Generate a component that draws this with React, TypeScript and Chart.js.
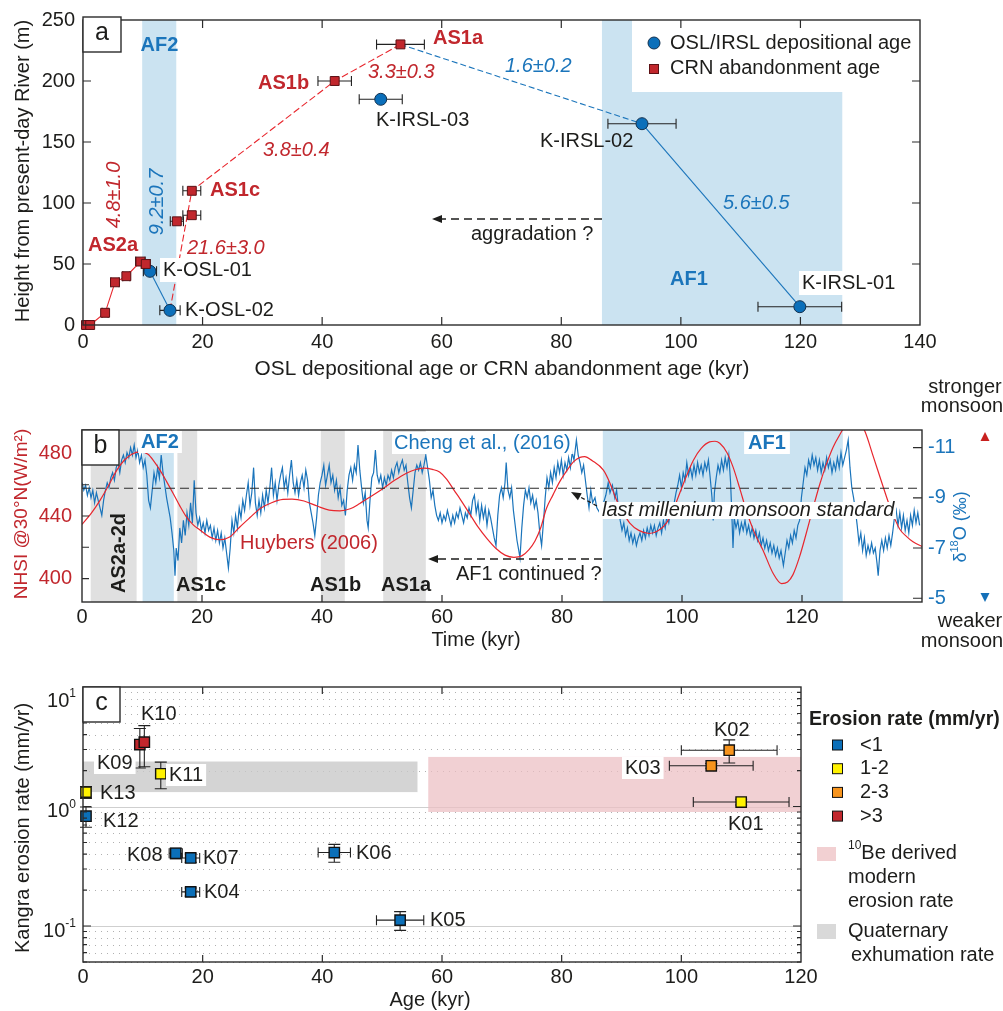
import React, { useEffect, useRef } from 'react';
import { Chart, registerables } from 'chart.js';

Chart.register(...registerables);

// ---------------- style constants ----------------
const FONT = '"Liberation Sans", Arial, Helvetica, sans-serif';
const INK = '#1d1d1b';
const FRAME = '#2b2b2b';
const RED_TXT = '#c1272d';
const RED_LINE = '#e8262d';
const BLUE_TXT = '#1b75bb';
const BLUE_LINE = '#1b75bb';
const BAND_BLUE = 'rgb(203,227,241)';
const BAND_GRAY = 'rgb(224,224,224)';
const PINK = 'rgba(236,190,194,0.72)';
const QGRAY = 'rgba(200,200,200,0.78)';
const PI2 = Math.PI / 2;

const A_TOP = 0;
const B_TOP = 370;
const C_TOP = 660;

// ---------------- panel a data ----------------
const ageTicksA = [0, 20, 40, 60, 80, 100, 120, 140];
const heightTicks = [0, 50, 100, 150, 200, 250];
const crnAge = [0.5, 1.2, 3.7, 5.35, 7.25, 9.6, 10.5, 15.7, 18.2, 18.2, 42.1, 53.1];
const crnHeight = [0, 0, 10, 35, 40, 52, 50, 85, 90, 110, 200, 230];
const crnAgeErr = [0.5, 0.5, 0.5, 0.7, 0.6, 0.8, 0.75, 1.1, 1.5, 1.5, 2.8, 4.0];
const crnSolidIdx = [0, 1, 2, 3, 4, 5, 6];
const crnDashedIdx = [11, 10, 9];
const oslNames = ['K-OSL-01', 'K-OSL-02', 'K-IRSL-03', 'K-IRSL-02', 'K-IRSL-01'];
const oslAge = [11.2, 14.55, 49.8, 93.5, 119.9];
const oslHeight = [44, 12, 185, 165, 15];
const oslAgeErr = [1.1, 1.7, 3.6, 5.7, 7.0];
const afBandsA = [[9.9, 15.6], [86.8, 127.0]];

// ---------------- panel b data ----------------
const timeTicksB = [0, 20, 40, 60, 80, 100, 120];
const nhsiTicks = [400, 440, 480];
const d18oTicks = [-11, -9, -7, -5];
const asBandsB = [[1.45, 9.1], [15.9, 19.2], [39.8, 43.8], [50.2, 57.3]];
const afBandsB = [[10.1, 15.3], [86.8, 126.8]];
const monsoonStandard = -9.38;

const huybersRecord = [
  [0, 434.6], [1.5, 441.5], [3, 450], [4.5, 460], [5.8, 469.3], [7, 475.5], [8.3, 479.5], [9.7, 481],
  [11, 479.5], [12, 475], [13, 469.3], [14.1, 462], [15.2, 454.4], [16.3, 446.5], [17.4, 439.4],
  [18.5, 434.5], [19.7, 430.9], [21.3, 426.5], [23, 424.8], [24.6, 426.5], [26.3, 433], [28, 439],
  [29.7, 444.8], [31.6, 448.5], [33.5, 450.6], [35, 450.8], [37, 449.6], [39.3, 446.2], [41.2, 443.8],
  [43, 443.3], [44.7, 444.6], [46.3, 448], [48.2, 452.6], [50.2, 457.6], [52.1, 462.8], [54, 467.2],
  [55.5, 469.6], [57, 470.6], [58.4, 469.8], [59.6, 468.2], [60.8, 463.5], [62, 456.5], [63, 451],
  [64.5, 442], [66, 433], [67.5, 425.5], [69, 419.2], [70.5, 415], [72, 413.6], [73.3, 414.5],
  [74.5, 418.5], [75.5, 424], [76.5, 433], [77.4, 444.8], [78.5, 453.5], [79.6, 461.8], [80.8, 469],
  [81.9, 474.6], [83, 477.5], [83.8, 478], [85, 475.5], [86.9, 469.3], [88, 461], [89.1, 450.1],
  [90.2, 442], [91.3, 435.5], [92.8, 430.8], [94.6, 428.8], [96, 430.5], [97.4, 435.5], [98.5, 443.5],
  [99.6, 454.4], [100.8, 466], [101.9, 475.7], [103.2, 483.2], [104.6, 487.4], [105.5, 487.8],
  [106.3, 486.5], [107.5, 480.5], [108.5, 471.4], [109.6, 458], [110.7, 443.7], [112, 430],
  [113.5, 418.1], [115.2, 403.2], [116.6, 396.8], [117.6, 397.8], [118.5, 402.5], [119.6, 414],
  [120.7, 428.8], [121.8, 444.5], [123, 460.8], [124.1, 473.5], [125.2, 484.2], [126.6, 494],
  [127.5, 500], [128.4, 503], [129.5, 500.5], [130.5, 494], [131.9, 477.8], [133.5, 459],
  [134.7, 445.5], [136.3, 431.5], [137.4, 427], [138.5, 423.5], [140, 420.5],
];

const chengRecord = [
  [0, -9.6], [0.3, -9.3], [0.6, -9.5], [0.9, -9.1], [1.2, -9.4], [1.5, -9.0], [1.8, -9.3], [2.1, -8.8], [2.4, -9.2], [2.7, -8.9],
  [3.0, -8.6], [3.3, -8.3], [3.6, -8.9], [3.9, -9.3], [4.2, -9.6], [4.5, -9.4], [4.8, -9.8], [5.1, -10.0], [5.4, -9.7], [5.7, -10.2],
  [6.0, -10.4], [6.3, -10.0], [6.6, -10.5], [6.9, -10.7], [7.2, -10.4], [7.5, -10.8], [7.8, -10.6], [8.1, -11.0], [8.4, -10.7], [8.7, -11.1],
  [9.0, -10.6], [9.3, -10.9], [9.6, -10.4], [9.9, -10.7], [10.2, -10.2], [10.5, -10.5], [10.8, -9.9], [11.1, -8.9], [11.4, -8.6], [11.7, -9.3],
  [12.0, -10.0], [12.3, -9.6], [12.6, -10.2], [12.9, -9.8], [13.2, -10.7], [13.5, -10.0], [13.8, -9.5], [14.1, -9.0], [14.4, -8.6], [14.7, -8.2],
  [15.0, -7.6], [15.3, -6.9], [15.5, -5.9], [15.7, -7.0], [16.0, -6.5], [16.3, -7.8], [16.6, -7.2], [16.9, -8.1], [17.2, -7.5], [17.5, -8.4],
  [17.8, -7.9], [18.1, -8.8], [18.4, -8.0], [18.7, -9.7], [19.0, -8.4], [19.3, -7.9], [19.6, -8.2], [19.9, -7.7], [20.2, -8.0], [20.5, -7.6],
  [20.8, -8.1], [21.1, -7.7], [21.4, -7.9], [21.7, -7.4], [22.0, -7.8], [22.3, -7.3], [22.6, -7.7], [22.9, -7.2], [23.2, -7.6], [23.5, -7.0],
  [23.8, -7.4], [24.1, -6.8], [24.4, -6.2], [24.7, -7.0], [25.0, -8.1], [25.3, -7.6], [25.6, -8.3], [25.9, -7.8], [26.2, -8.6], [26.5, -8.2],
  [26.8, -8.9], [27.1, -8.5], [27.4, -9.1], [27.7, -9.6], [28.0, -8.7], [28.3, -9.2], [28.6, -10.2], [28.9, -8.8], [29.2, -8.3], [29.5, -8.9],
  [29.8, -8.4], [30.1, -9.1], [30.4, -8.6], [30.7, -9.3], [31.0, -8.8], [31.3, -9.4], [31.6, -10.2], [31.9, -9.1], [32.2, -9.6], [32.5, -8.9],
  [32.8, -9.5], [33.1, -9.9], [33.4, -10.2], [33.7, -9.4], [34.0, -9.8], [34.3, -9.2], [34.6, -9.9], [34.9, -10.5], [35.2, -9.6], [35.5, -9.2],
  [35.8, -9.7], [36.1, -9.1], [36.4, -9.6], [36.7, -9.9], [37.0, -9.4], [37.3, -10.1], [37.6, -9.7], [37.9, -8.8], [38.2, -8.4], [38.5, -8.0],
  [38.8, -7.5], [39.1, -8.2], [39.4, -9.1], [39.7, -9.6], [40.0, -9.9], [40.3, -10.3], [40.6, -9.5], [40.9, -9.9], [41.2, -10.3], [41.5, -9.6],
  [41.8, -9.9], [42.1, -9.3], [42.4, -9.7], [42.7, -9.0], [43.0, -9.4], [43.3, -8.7], [43.6, -8.9], [43.9, -8.3], [44.2, -9.3], [44.5, -9.9],
  [44.8, -10.2], [45.1, -9.7], [45.4, -10.3], [45.7, -10.0], [46.0, -11.1], [46.3, -10.1], [46.6, -9.4], [46.9, -8.8], [47.2, -9.2], [47.5, -8.1],
  [47.7, -7.8], [48.0, -8.9], [48.3, -9.8], [48.6, -10.0], [48.9, -10.9], [49.2, -9.9], [49.5, -9.6], [49.8, -9.9], [50.1, -9.4], [50.4, -9.8],
  [50.7, -9.5], [51.0, -9.9], [51.3, -9.7], [51.6, -10.1], [51.9, -9.8], [52.2, -10.2], [52.5, -10.4], [52.8, -10.0], [53.1, -10.3], [53.4, -10.5],
  [53.7, -10.1], [54.0, -10.3], [54.3, -9.6], [54.6, -9.0], [54.9, -8.6], [55.2, -9.3], [55.5, -10.0], [55.8, -10.3], [56.1, -10.1], [56.4, -10.4],
  [56.7, -10.0], [57.0, -10.3], [57.3, -10.7], [57.6, -10.2], [57.9, -9.7], [58.2, -9.0], [58.5, -9.3], [58.8, -8.7], [59.1, -8.3], [59.4, -8.1],
  [59.7, -8.4], [60.0, -8.0], [60.3, -8.3], [60.6, -8.1], [60.9, -8.5], [61.2, -8.2], [61.5, -7.9], [61.8, -8.3], [62.1, -8.0], [62.4, -8.4],
  [62.7, -8.2], [63.0, -8.6], [63.3, -8.3], [63.6, -8.0], [63.9, -8.4], [64.2, -8.2], [64.5, -8.6], [64.8, -8.3], [65.1, -8.9], [65.4, -9.1],
  [65.7, -8.4], [66.0, -8.8], [66.3, -8.1], [66.6, -8.7], [66.9, -8.2], [67.2, -8.6], [67.5, -7.9], [67.8, -8.5], [68.1, -8.2], [68.4, -7.8],
  [68.7, -7.4], [69.0, -7.1], [69.3, -8.3], [69.6, -9.1], [69.9, -9.4], [70.2, -9.0], [70.5, -9.6], [70.7, -10.4], [71.0, -9.3], [71.3, -9.0],
  [71.6, -9.4], [71.9, -8.5], [72.2, -7.9], [72.5, -7.3], [72.8, -6.9], [73.0, -6.6], [73.3, -7.8], [73.6, -8.7], [73.9, -9.3], [74.2, -9.0],
  [74.5, -9.4], [74.8, -8.8], [75.1, -9.1], [75.4, -8.6], [75.7, -8.9], [76.0, -8.4], [76.3, -7.6], [76.6, -7.1], [76.9, -8.0], [77.2, -9.0],
  [77.5, -9.8], [77.8, -9.4], [78.1, -10.0], [78.4, -9.6], [78.7, -10.2], [79.0, -9.8], [79.3, -10.4], [79.6, -10.0], [79.9, -10.5], [80.2, -9.9],
  [80.5, -10.4], [80.8, -10.1], [81.1, -10.6], [81.4, -10.2], [81.7, -10.8], [82.0, -10.5], [82.4, -11.3], [82.7, -10.7], [83.0, -10.4], [83.3, -10.0],
  [83.6, -10.3], [83.9, -9.7], [84.2, -9.1], [84.5, -8.6], [84.8, -9.3], [85.1, -8.8], [85.5, -9.0], [85.8, -8.6], [86.3, -8.4], [86.8, -8.7],
  [87.3, -9.1], [87.7, -9.6], [88.0, -9.2], [88.4, -9.5], [88.8, -9.0], [89.1, -9.3], [89.4, -8.6], [89.7, -8.1], [90.0, -7.7], [90.3, -8.0],
  [90.6, -7.5], [90.9, -7.8], [91.2, -7.3], [91.5, -7.6], [91.8, -7.2], [92.1, -7.5], [92.4, -7.1], [92.7, -7.4], [93.0, -7.6], [93.3, -7.3],
  [93.6, -7.7], [93.9, -7.4], [94.2, -7.8], [94.5, -7.5], [94.8, -7.9], [95.1, -7.6], [95.4, -7.9], [95.7, -7.5], [96.0, -7.8], [96.3, -8.0],
  [96.6, -7.6], [96.9, -8.1], [97.2, -7.8], [97.5, -8.3], [97.8, -8.0], [98.1, -8.5], [98.4, -8.3], [98.7, -8.8], [99.0, -9.2], [99.3, -9.5],
  [99.6, -9.9], [99.9, -9.4], [100.2, -10.0], [100.5, -9.7], [100.8, -10.4], [101.1, -9.9], [101.4, -10.2], [101.7, -9.8], [102.0, -10.3], [102.3, -9.9],
  [102.6, -10.4], [102.9, -10.0], [103.2, -10.3], [103.5, -9.9], [103.8, -10.4], [104.1, -10.1], [104.4, -10.5], [104.7, -9.8], [105.0, -9.0], [105.2, -8.1],
  [105.4, -9.2], [105.7, -9.8], [106.0, -10.3], [106.3, -10.0], [106.6, -10.5], [106.9, -10.1], [107.2, -10.6], [107.5, -10.2], [107.8, -10.7], [108.1, -9.6],
  [108.3, -8.4], [108.5, -7.0], [108.7, -8.2], [109.0, -7.8], [109.3, -8.1], [109.6, -7.6], [109.9, -8.0], [110.2, -7.7], [110.5, -8.1], [110.8, -7.6],
  [111.1, -7.9], [111.4, -7.5], [111.7, -7.8], [112.0, -7.4], [112.3, -7.7], [112.6, -7.3], [112.9, -7.6], [113.2, -7.1], [113.5, -7.4], [113.8, -7.0],
  [114.1, -7.3], [114.4, -6.9], [114.7, -7.2], [115.0, -6.8], [115.3, -7.1], [115.6, -6.7], [115.9, -7.0], [116.2, -6.6], [116.5, -6.9], [116.9, -6.3],
  [117.2, -6.8], [117.5, -7.3], [117.8, -7.0], [118.1, -7.5], [118.4, -7.2], [118.7, -7.7], [119.0, -7.4], [119.3, -7.9], [119.6, -8.1], [119.9, -9.0],
  [120.2, -9.6], [120.5, -10.2], [120.8, -9.9], [121.1, -10.5], [121.4, -10.2], [121.7, -10.7], [122.0, -10.3], [122.3, -10.6], [122.6, -10.1], [122.9, -10.5],
  [123.2, -10.0], [123.5, -10.4], [123.8, -10.1], [124.1, -10.6], [124.4, -10.2], [124.7, -10.5], [125.0, -10.0], [125.3, -10.4], [125.6, -10.1], [125.9, -10.6],
  [126.2, -10.2], [126.5, -10.8], [126.8, -10.3], [127.1, -10.6], [127.4, -10.9], [127.7, -11.3], [128.0, -10.2], [128.3, -9.4], [128.6, -9.0], [128.9, -8.5],
  [129.2, -7.9], [129.5, -7.2], [129.8, -7.6], [130.1, -6.9], [130.4, -7.4], [130.7, -6.7], [131.0, -7.1], [131.3, -6.8], [131.6, -7.2], [131.9, -6.8],
  [132.2, -7.0], [132.5, -6.4], [132.7, -5.9], [133.0, -6.9], [133.3, -7.3], [133.6, -6.9], [133.9, -7.4], [134.2, -7.0], [134.5, -7.5], [134.8, -7.1],
  [135.1, -7.6], [135.4, -8.2], [135.7, -8.5], [136.0, -7.9], [136.3, -8.4], [136.6, -7.8], [136.9, -8.3], [137.2, -7.7], [137.5, -8.1], [137.8, -7.6],
  [138.1, -8.3], [138.4, -7.9], [138.7, -8.5], [139.0, -8.0], [139.3, -8.4], [139.6, -7.9],
];

// ---------------- panel c data ----------------
const ageTicksC = [0, 20, 40, 60, 80, 100, 120];
const sampleNames = ['K01', 'K02', 'K03', 'K04', 'K05', 'K06', 'K07', 'K08', 'K09', 'K10', 'K11', 'K12', 'K13'];
const sampleAge = [110, 108, 105, 18.0, 53.0, 42.0, 18.0, 15.5, 9.5, 10.25, 13.0, 0.5, 0.5];
const sampleAgeErr = [8, 8, 7, 1.5, 3.95, 2.7, 1.5, 1.1, 0, 0, 0, 0, 0];
const sampleRate = [1.09, 2.96, 2.19, 0.193, 0.112, 0.412, 0.371, 0.406, 3.3, 3.45, 1.88, 0.83, 1.32];
const sampleRateErr = [0.06, 0.65, 0.1, 0.015, 0.02, 0.07, 0.03, 0.04, 1.2, 1.3, 0.47, 0.16, 0.15];
const rateClassBounds = [1, 2, 3];
const rateClassColors = ['#0b6fb8', '#fff200', '#f7941d', '#c1272d'];
const rateClassLabels = ['<1', '1-2', '2-3', '>3'];
const rateMajorTicks = [0.1, 1, 10];
const rateMajorExp = ['-1', '0', '1'];
const rateMinorTicks = [0.05, 0.06, 0.07, 0.08, 0.09, 0.2, 0.3, 0.4, 0.5, 0.6, 0.7, 0.8, 0.9, 2, 3, 4, 5, 6, 7, 8, 9];
const modernBandAge = [57.7, 120];
const modernBandRate = [0.9, 2.6];
const exhumationBandAge = [0, 55.9];
const exhumationBandRate = [1.32, 2.38];

function rateColor(r) {
  let i = 0;
  while (i < rateClassBounds.length && r >= rateClassBounds[i]) i++;
  return rateClassColors[i];
}

// ---------------- drawing helpers ----------------
function txt(ctx, s, x, y, o: any = {}) {
  const size = o.size || 20;
  ctx.save();
  ctx.font = `${o.italic ? 'italic ' : ''}${o.bold ? 'bold ' : ''}${size}px ${FONT}`;
  ctx.translate(x, y);
  if (o.rot) ctx.rotate(o.rot);
  const align = o.align || 'left';
  ctx.textAlign = align;
  ctx.textBaseline = 'middle';
  if (o.bg) {
    const w = ctx.measureText(s).width;
    const l = align === 'left' ? 0 : align === 'center' ? -w / 2 : -w;
    const px = o.padX ?? 2;
    const py = o.padY ?? 1;
    ctx.fillStyle = o.bg;
    ctx.fillRect(l - px, -size * 0.55 - py, w + 2 * px, size * 1.1 + 2 * py);
  }
  ctx.fillStyle = o.color || INK;
  ctx.fillText(s, 0, 0);
  ctx.restore();
}

function rich(ctx, segs, x, y, size, color, align, rot = 0, bold = false) {
  ctx.save();
  ctx.translate(x, y);
  if (rot) ctx.rotate(rot);
  ctx.textBaseline = 'middle';
  ctx.textAlign = 'left';
  ctx.fillStyle = color;
  const f = (sup) => `${bold ? 'bold ' : ''}${sup ? Math.round(size * 0.62) : size}px ${FONT}`;
  let total = 0;
  const ws = segs.map(([t, sup]) => {
    ctx.font = f(sup);
    const w = ctx.measureText(t).width;
    total += w;
    return w;
  });
  let cx = align === 'left' ? 0 : align === 'center' ? -total / 2 : -total;
  segs.forEach(([t, sup], i) => {
    ctx.font = f(sup);
    ctx.fillText(t, cx, sup ? -size * 0.36 : 0);
    cx += ws[i];
  });
  ctx.restore();
}

function arrow(ctx, x1, y1, x2, y2, dash) {
  ctx.save();
  ctx.strokeStyle = INK;
  ctx.fillStyle = INK;
  ctx.lineWidth = 1.3;
  const ang = Math.atan2(y2 - y1, x2 - x1);
  const L = 10;
  const W = 4;
  const bx = x2 - L * Math.cos(ang);
  const by = y2 - L * Math.sin(ang);
  ctx.setLineDash(dash);
  ctx.beginPath();
  ctx.moveTo(x1, y1);
  ctx.lineTo(bx, by);
  ctx.stroke();
  ctx.setLineDash([]);
  ctx.beginPath();
  ctx.moveTo(x2, y2);
  ctx.lineTo(bx + W * Math.sin(ang), by - W * Math.cos(ang));
  ctx.lineTo(bx - W * Math.sin(ang), by + W * Math.cos(ang));
  ctx.closePath();
  ctx.fill();
  ctx.restore();
}

function frame(ctx, ca) {
  ctx.save();
  ctx.strokeStyle = FRAME;
  ctx.lineWidth = 1.4;
  ctx.strokeRect(ca.left, ca.top, ca.right - ca.left, ca.bottom - ca.top);
  ctx.restore();
}

function boxLabel(ctx, s, x0, y0, x1, y1) {
  ctx.save();
  ctx.fillStyle = '#fff';
  ctx.fillRect(x0, y0, x1 - x0, y1 - y0);
  ctx.strokeStyle = FRAME;
  ctx.lineWidth = 1.4;
  ctx.strokeRect(x0, y0, x1 - x0, y1 - y0);
  ctx.restore();
  txt(ctx, s, (x0 + x1) / 2, (y0 + y1) / 2 - 1, { size: 25, align: 'center' });
}

function xTicks(ctx, ca, scale, vals, len, top, bottom) {
  ctx.save();
  ctx.strokeStyle = FRAME;
  ctx.lineWidth = 1.2;
  ctx.beginPath();
  vals.forEach((v) => {
    const p = scale.getPixelForValue(v);
    if (bottom) { ctx.moveTo(p, ca.bottom); ctx.lineTo(p, ca.bottom - len); }
    if (top) { ctx.moveTo(p, ca.top); ctx.lineTo(p, ca.top + len); }
  });
  ctx.stroke();
  ctx.restore();
}

function yTicks(ctx, ca, scale, vals, len, left, right) {
  ctx.save();
  ctx.strokeStyle = FRAME;
  ctx.lineWidth = 1.2;
  ctx.beginPath();
  vals.forEach((v) => {
    const p = scale.getPixelForValue(v);
    if (left) { ctx.moveTo(ca.left, p); ctx.lineTo(ca.left + len, p); }
    if (right) { ctx.moveTo(ca.right, p); ctx.lineTo(ca.right - len, p); }
  });
  ctx.stroke();
  ctx.restore();
}

function hErr(ctx, xs, ys, xv, yv, e, cap) {
  if (!e) return;
  const y = ys.getPixelForValue(yv);
  const x0 = xs.getPixelForValue(xv - e);
  const x1 = xs.getPixelForValue(xv + e);
  ctx.save();
  ctx.strokeStyle = '#222';
  ctx.lineWidth = 1.1;
  ctx.beginPath();
  ctx.moveTo(x0, y); ctx.lineTo(x1, y);
  ctx.moveTo(x0, y - cap); ctx.lineTo(x0, y + cap);
  ctx.moveTo(x1, y - cap); ctx.lineTo(x1, y + cap);
  ctx.stroke();
  ctx.restore();
}

function vErr(ctx, xs, ys, xv, yv, e, cap) {
  if (!e) return;
  const x = xs.getPixelForValue(xv);
  const y0 = ys.getPixelForValue(yv - e);
  const y1 = ys.getPixelForValue(yv + e);
  ctx.save();
  ctx.strokeStyle = '#222';
  ctx.lineWidth = 1.1;
  ctx.beginPath();
  ctx.moveTo(x, y0); ctx.lineTo(x, y1);
  ctx.moveTo(x - cap, y0); ctx.lineTo(x + cap, y0);
  ctx.moveTo(x - cap, y1); ctx.lineTo(x + cap, y1);
  ctx.stroke();
  ctx.restore();
}

function linAxis(min, max, ticks, fit, size, pad, color, extra = {}) {
  return {
    type: 'linear',
    min,
    max,
    afterBuildTicks: (s) => { s.ticks = ticks.map((v) => ({ value: v })); },
    ticks: {
      color,
      font: { family: FONT, size: 20 },
      padding: pad,
      autoSkip: false,
      maxRotation: 0,
      minRotation: 0,
      callback: (v) => String(v),
    },
    grid: { display: false, drawTicks: false },
    border: { display: false },
    afterFit: (s) => { if (fit === 'h') s.height = size; else s.width = size; },
    ...extra,
  };
}

const common = {
  responsive: false,
  maintainAspectRatio: false,
  animation: false,
  devicePixelRatio: 1,
  events: [],
  plugins: { legend: { display: false }, tooltip: { enabled: false } },
};

// ---------------- panel a ----------------
const panelAPlugin = {
  id: 'panelA',
  beforeDatasetsDraw(chart) {
    const { ctx, chartArea: ca } = chart;
    const xs = chart.scales.x;
    const ys = chart.scales.y;
    ctx.save();
    ctx.fillStyle = BAND_BLUE;
    afBandsA.forEach(([a0, a1]) => {
      const p0 = xs.getPixelForValue(a0);
      const p1 = xs.getPixelForValue(a1);
      ctx.fillRect(p0, ca.top, p1 - p0, ca.bottom - ca.top);
    });
    ctx.translate(0, -A_TOP);
    ctx.fillStyle = '#fff';
    ctx.fillRect(632, 17, 288, 75);
    ctx.restore();
    crnAge.forEach((a, i) => hErr(ctx, xs, ys, a, crnHeight[i], crnAgeErr[i], 5));
    oslAge.forEach((a, i) => hErr(ctx, xs, ys, a, oslHeight[i], oslAgeErr[i], 5));
  },
  afterDraw(chart) {
    const { ctx, chartArea: ca } = chart;
    const xs = chart.scales.x;
    const ys = chart.scales.y;
    frame(ctx, ca);
    xTicks(ctx, ca, xs, [20, 40, 60, 80, 100, 120], 8, true, true);
    yTicks(ctx, ca, ys, [50, 100, 150, 200], 8, true, true);
    ctx.save();
    ctx.translate(0, -A_TOP);
    boxLabel(ctx, 'a', 83, 17, 121, 52);
    const redB = { color: RED_TXT, bold: true };
    const redI = { color: RED_TXT, italic: true };
    const bluI = { color: BLUE_TXT, italic: true };
    txt(ctx, 'AF2', 159.5, 45, { bold: true, color: BLUE_TXT, align: 'center' });
    txt(ctx, 'AF1', 689, 279, { bold: true, color: BLUE_TXT, align: 'center' });
    txt(ctx, 'AS1a', 433, 38, redB);
    txt(ctx, 'AS1b', 258, 83, redB);
    txt(ctx, 'AS1c', 210, 190, redB);
    txt(ctx, 'AS2a', 88, 245, redB);
    txt(ctx, '3.3±0.3', 368, 72, redI);
    txt(ctx, '3.8±0.4', 263, 150, redI);
    txt(ctx, '21.6±3.0', 187, 248, redI);
    txt(ctx, '4.8±1.0', 114, 195, { ...redI, align: 'center', rot: -PI2 });
    txt(ctx, '9.2±0.7', 157, 202, { ...bluI, align: 'center', rot: -PI2 });
    txt(ctx, '1.6±0.2', 505, 66, bluI);
    txt(ctx, '5.6±0.5', 723, 203, bluI);
    txt(ctx, oslNames[0], 163, 270, { bg: '#fff', padX: 3 });
    txt(ctx, oslNames[1], 185, 310, {});
    txt(ctx, oslNames[2], 376, 120, {});
    txt(ctx, oslNames[3], 540, 141, {});
    txt(ctx, oslNames[4], 802, 283, { bg: '#fff', padX: 3 });
    txt(ctx, 'aggradation ?', 471, 234, {});
    arrow(ctx, 602, 219, 432, 219, [8, 5]);
    // legend
    ctx.save();
    ctx.beginPath();
    ctx.arc(654, 43, 6, 0, Math.PI * 2);
    ctx.fillStyle = '#0b6fba';
    ctx.fill();
    ctx.strokeStyle = '#13314f';
    ctx.lineWidth = 1;
    ctx.stroke();
    ctx.fillStyle = RED_TXT;
    ctx.fillRect(649.5, 64.5, 9, 9);
    ctx.strokeStyle = '#5c1115';
    ctx.strokeRect(649.5, 64.5, 9, 9);
    ctx.restore();
    txt(ctx, 'OSL/IRSL depositional age', 670, 43, {});
    txt(ctx, 'CRN abandonment age', 670, 68, {});
    // titles
    txt(ctx, 'OSL depositional age or CRN abandonment age (kyr)', 502, 369, { align: 'center', size: 20.8 });
    txt(ctx, 'Height from present-day River (m)', 23, 171, { align: 'center', rot: -PI2 });
    ctx.restore();
  },
};

function buildA(canvas) {
  const crnPts = crnAge.map((a, i) => ({ x: a, y: crnHeight[i] }));
  const oslPts = oslAge.map((a, i) => ({ x: a, y: oslHeight[i] }));
  const line = (pts, color, dash) => ({
    data: pts, showLine: true, borderColor: color, borderWidth: 1.1, borderDash: dash, pointRadius: 0, fill: false,
  });
  return new Chart(canvas, {
    type: 'scatter',
    data: {
      datasets: [
        { data: crnPts, pointStyle: 'rect', pointRadius: 6.3, backgroundColor: RED_TXT, borderColor: '#5c1115', borderWidth: 1, clip: false },
        { data: oslPts, pointStyle: 'circle', pointRadius: 6, backgroundColor: '#0b6fba', borderColor: '#13314f', borderWidth: 1, clip: false },
        line(crnSolidIdx.map((i) => crnPts[i]), RED_LINE, []),
        line([...crnDashedIdx.map((i) => crnPts[i]), oslPts[1]], RED_LINE, [7, 3]),
        line([oslPts[0], oslPts[1]], BLUE_LINE, []),
        line([oslPts[3], oslPts[4]], BLUE_LINE, []),
        line([crnPts[11], oslPts[3]], BLUE_LINE, [6, 3]),
      ],
    },
    options: {
      ...common,
      layout: { padding: { left: 0, right: 83, top: 17, bottom: 0 } },
      scales: {
        x: linAxis(0, 140, ageTicksA, 'h', 55, 5, INK),
        y: linAxis(0, 250, heightTicks, 'w', 83, 8, INK),
      },
    },
    plugins: [panelAPlugin],
  } as any);
}

// ---------------- panel b ----------------
const panelBPlugin = {
  id: 'panelB',
  beforeDatasetsDraw(chart) {
    const { ctx, chartArea: ca } = chart;
    const xs = chart.scales.x;
    ctx.save();
    ctx.fillStyle = BAND_GRAY;
    asBandsB.forEach(([a0, a1]) => {
      const p0 = xs.getPixelForValue(a0);
      const p1 = xs.getPixelForValue(a1);
      ctx.fillRect(p0, ca.top, p1 - p0, ca.bottom - ca.top);
    });
    ctx.fillStyle = BAND_BLUE;
    afBandsB.forEach(([a0, a1]) => {
      const p0 = xs.getPixelForValue(a0);
      const p1 = xs.getPixelForValue(a1);
      ctx.fillRect(p0, ca.top, p1 - p0, ca.bottom - ca.top);
    });
    ctx.restore();
  },
  afterDraw(chart) {
    const { ctx, chartArea: ca } = chart;
    const xs = chart.scales.x;
    const ys = chart.scales.y;
    const y2 = chart.scales.y2;
    ctx.save();
    ctx.translate(0, -B_TOP);
    ctx.fillStyle = '#fff';
    ctx.fillRect(599, 502, 297, 17);
    txt(ctx, 'last millenium monsoon standard', 602, 510, { italic: true });
    arrow(ctx, 597, 506, 571, 492, [4, 3]);
    txt(ctx, 'Cheng et al., (2016)', 394, 443, { color: BLUE_TXT, bg: '#fff', padX: 2, padY: 0 });
    txt(ctx, 'AF2', 160, 442, { bold: true, color: BLUE_TXT, align: 'center', bg: '#fff', padX: 3, padY: 0 });
    txt(ctx, 'AF1', 767, 443, { bold: true, color: BLUE_TXT, align: 'center', bg: '#fff', padX: 4, padY: 0 });
    txt(ctx, 'AS2a-2d', 119, 553, { bold: true, align: 'center', rot: -PI2 });
    txt(ctx, 'AS1c', 176, 585, { bold: true });
    txt(ctx, 'AS1b', 310, 585, { bold: true });
    txt(ctx, 'AS1a', 381, 585, { bold: true });
    txt(ctx, 'Huybers (2006)', 240, 543, { color: RED_TXT });
    txt(ctx, 'AF1 continued ?', 456, 574, {});
    arrow(ctx, 602, 559, 428, 559, [8, 5]);
    ctx.restore();

    frame(ctx, ca);
    xTicks(ctx, ca, xs, [20, 40, 60, 80, 100, 120], 7, false, true);
    yTicks(ctx, ca, ys, [400, 420, 440, 460, 480], 7, true, false);
    yTicks(ctx, ca, y2, d18oTicks, 9, false, true);

    ctx.save();
    ctx.translate(0, -B_TOP);
    boxLabel(ctx, 'b', 82, 430, 119, 465);
    txt(ctx, 'stronger', 965, 387, { align: 'center' });
    txt(ctx, 'monsoon', 962, 406, { align: 'center' });
    txt(ctx, 'weaker', 970, 621, { align: 'center' });
    txt(ctx, 'monsoon', 962, 641, { align: 'center' });
    ctx.fillStyle = '#c8201e';
    ctx.beginPath();
    ctx.moveTo(985, 432); ctx.lineTo(989.5, 441); ctx.lineTo(980.5, 441); ctx.closePath(); ctx.fill();
    ctx.fillStyle = '#1570b8';
    ctx.beginPath();
    ctx.moveTo(985, 602); ctx.lineTo(989.5, 593); ctx.lineTo(980.5, 593); ctx.closePath(); ctx.fill();
    rich(ctx, [['δ', false], ['18', true], ['O (‰)', false]], 961, 527, 18, BLUE_TXT, 'center', -PI2);
    txt(ctx, 'NHSI @30°N(W/m²)', 22, 514, { size: 19, color: RED_TXT, align: 'center', rot: -PI2 });
    txt(ctx, 'Time (kyr)', 476, 640, { align: 'center' });
    ctx.restore();
  },
};

function buildB(canvas) {
  return new Chart(canvas, {
    type: 'scatter',
    data: {
      datasets: [
        {
          data: [{ x: 0, y: monsoonStandard }, { x: 140, y: monsoonStandard }], yAxisID: 'y2', showLine: true,
          borderColor: '#2b2b2b', borderWidth: 1.2, borderDash: [9, 5], pointRadius: 0,
        },
        {
          data: huybersRecord.map(([t, v]) => ({ x: t, y: v })), yAxisID: 'y', showLine: true,
          borderColor: RED_LINE, borderWidth: 1.2, pointRadius: 0, tension: 0.4, cubicInterpolationMode: 'monotone',
        },
        {
          data: chengRecord.map(([t, v]) => ({ x: t, y: v })), yAxisID: 'y2', showLine: true,
          borderColor: '#1a74bb', borderWidth: 1.2, pointRadius: 0,
        },
      ],
    },
    options: {
      ...common,
      layout: { padding: { left: 0, right: 0, top: 60, bottom: 0 } },
      scales: {
        x: linAxis(0, 140, timeTicksB, 'h', 68, 3, INK),
        y: linAxis(385, 495, nhsiTicks, 'w', 82, 10, RED_TXT),
        y2: linAxis(-11.7, -4.85, d18oTicks, 'w', 81, 6, BLUE_TXT, { position: 'right', reverse: true }),
      },
    },
    plugins: [panelBPlugin],
  } as any);
}

// ---------------- panel c ----------------
const samplePos = {
  K01: [728, 824], K02: [714, 730], K03: [625, 768], K04: [204, 892], K05: [430, 920], K06: [356, 853],
  K07: [203, 858], K08: [127, 855], K09: [97, 763], K10: [141, 714], K11: [169, 775], K12: [103, 821], K13: [100, 793],
};
const sampleBg = { K09: true, K11: true, K03: true };

const panelCPlugin = {
  id: 'panelC',
  beforeDatasetsDraw(chart) {
    const { ctx, chartArea: ca } = chart;
    const xs = chart.scales.x;
    const ys = chart.scales.y;
    ctx.save();
    ctx.strokeStyle = '#b0b0b0';
    ctx.lineWidth = 1;
    ctx.setLineDash([1, 5]);
    ctx.beginPath();
    rateMinorTicks.forEach((v) => {
      const p = Math.round(ys.getPixelForValue(v)) + 0.5;
      ctx.moveTo(ca.left, p); ctx.lineTo(ca.right, p);
    });
    ctx.stroke();
    ctx.setLineDash([]);
    ctx.strokeStyle = '#cfcfcf';
    ctx.beginPath();
    [0.1, 1].forEach((v) => {
      const p = Math.round(ys.getPixelForValue(v)) + 0.5;
      ctx.moveTo(ca.left, p); ctx.lineTo(ca.right, p);
    });
    ctx.stroke();
    const band = (ages, rates, color) => {
      const x0 = xs.getPixelForValue(ages[0]);
      const x1 = xs.getPixelForValue(ages[1]);
      const y0 = ys.getPixelForValue(rates[1]);
      const y1 = ys.getPixelForValue(rates[0]);
      ctx.fillStyle = color;
      ctx.fillRect(x0, y0, x1 - x0, y1 - y0);
    };
    band(exhumationBandAge, exhumationBandRate, QGRAY);
    band(modernBandAge, modernBandRate, PINK);
    ctx.restore();
    sampleAge.forEach((a, i) => {
      vErr(ctx, xs, ys, a, sampleRate[i], sampleRateErr[i], 6);
      hErr(ctx, xs, ys, a, sampleRate[i], sampleAgeErr[i], 5);
    });
  },
  afterDraw(chart) {
    const { ctx, chartArea: ca } = chart;
    const xs = chart.scales.x;
    const ys = chart.scales.y;
    frame(ctx, ca);
    xTicks(ctx, ca, xs, [20, 40, 60, 80, 100], 7, true, true);
    yTicks(ctx, ca, ys, [0.1, 1], 8, true, true);
    yTicks(ctx, ca, ys, rateMinorTicks, 4, true, true);
    rateMajorTicks.forEach((v, i) => {
      const p = ys.getPixelForValue(v);
      const yy = Math.max(p + 5, ca.top + 14);
      rich(ctx, [['10', false], [rateMajorExp[i], true]], 76, yy, 20, INK, 'right');
    });
    ctx.save();
    ctx.translate(0, -C_TOP);
    boxLabel(ctx, 'c', 83, 687, 120, 722);
    sampleNames.forEach((n) => {
      const [px, py] = samplePos[n];
      txt(ctx, n, px, py, sampleBg[n] ? { bg: '#fff', padX: 3, padY: 0 } : {});
    });
    txt(ctx, 'Age (kyr)', 430, 1000, { align: 'center' });
    txt(ctx, 'Kangra erosion rate (mm/yr)', 23, 828, { align: 'center', rot: -PI2 });
    txt(ctx, 'Erosion rate (mm/yr)', 809, 720, { bold: true, size: 19.5 });
    rateClassLabels.forEach((lab, i) => {
      const yy = 745 + i * 23.7;
      ctx.fillStyle = rateClassColors[i];
      ctx.fillRect(832.5, yy - 5, 10, 10);
      ctx.strokeStyle = '#111';
      ctx.lineWidth = 1;
      ctx.strokeRect(832.5, yy - 5, 10, 10);
      txt(ctx, lab, 860, yy, {});
    });
    ctx.fillStyle = 'rgb(242,208,210)';
    ctx.fillRect(817, 847, 19, 14);
    rich(ctx, [['10', true], ['Be derived', false]], 848, 853, 20, INK, 'left');
    txt(ctx, 'modern', 848, 877, {});
    txt(ctx, 'erosion rate', 848, 901, {});
    ctx.fillStyle = 'rgb(217,217,217)';
    ctx.fillRect(817, 924, 19, 15);
    txt(ctx, 'Quaternary', 848, 931, {});
    txt(ctx, 'exhumation rate', 851, 955, {});
    ctx.restore();
  },
};

function buildC(canvas) {
  return new Chart(canvas, {
    type: 'scatter',
    data: {
      datasets: [
        {
          data: sampleAge.map((a, i) => ({ x: a, y: sampleRate[i] })),
          pointStyle: 'rect', pointRadius: 7.3, backgroundColor: sampleRate.map(rateColor),
          borderColor: '#111', borderWidth: 1.4, clip: false,
        },
      ],
    },
    options: {
      ...common,
      layout: { padding: { left: 0, right: 202, top: 27, bottom: 0 } },
      scales: {
        x: linAxis(0, 120, ageTicksC, 'h', 49, 3, INK),
        y: {
          type: 'logarithmic', min: 0.05, max: 10,
          ticks: { display: false },
          grid: { display: false, drawTicks: false },
          border: { display: false },
          afterFit: (s) => { s.width = 83; },
        },
      },
    },
    plugins: [panelCPlugin],
  } as any);
}

export default function App() {
  const aRef = useRef<HTMLCanvasElement>(null);
  const bRef = useRef<HTMLCanvasElement>(null);
  const cRef = useRef<HTMLCanvasElement>(null);
  useEffect(() => {
    const charts = [buildA(aRef.current), buildB(bRef.current), buildC(cRef.current)];
    return () => charts.forEach((c) => c.destroy());
  }, []);
  const cs = (top, h) => ({ position: 'absolute' as const, left: 0, top, width: 1003, height: h, display: 'block' });
  return (
    <div style={{ position: 'absolute', left: 0, top: 0, width: 1003, height: 1011, background: '#fff', overflow: 'hidden' }}>
      <canvas ref={aRef} width={1003} height={380} style={cs(A_TOP, 380)} />
      <canvas ref={bRef} width={1003} height={300} style={cs(B_TOP, 300)} />
      <canvas ref={cRef} width={1003} height={351} style={cs(C_TOP, 351)} />
    </div>
  );
}
